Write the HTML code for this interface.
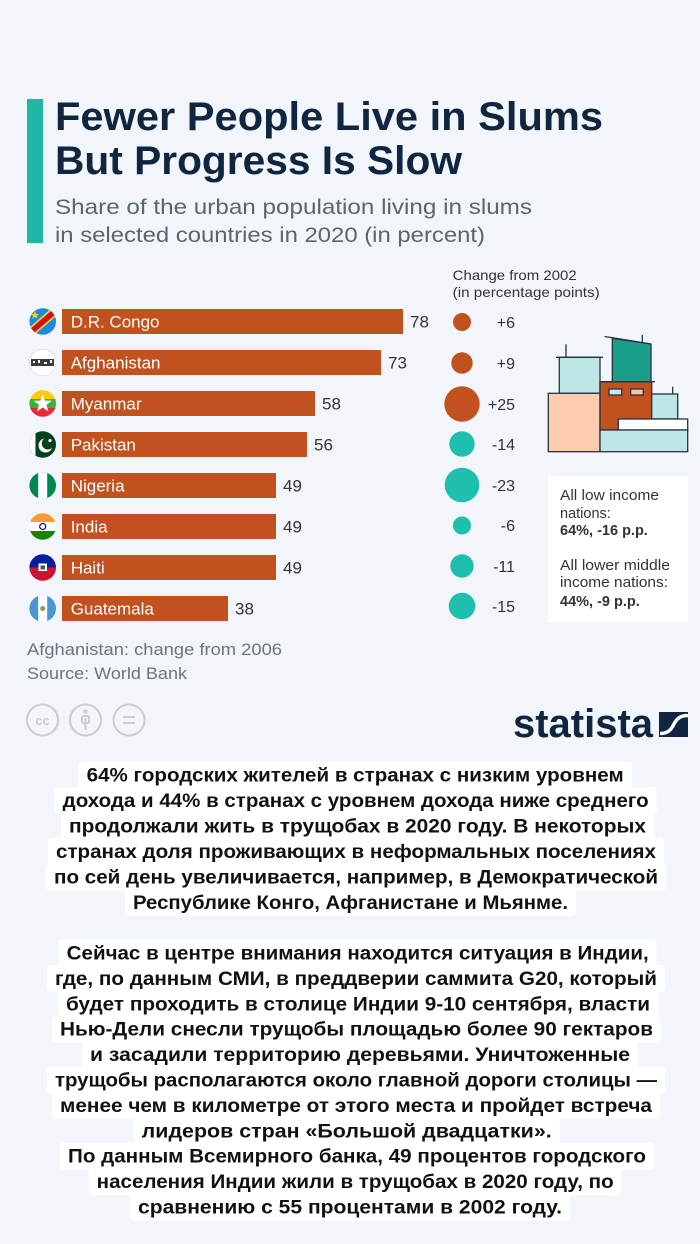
<!DOCTYPE html>
<html><head><meta charset="utf-8"><style>
html,body{margin:0;padding:0;background:#f2f5f9;}
svg{display:block;}
</style></head><body>
<svg width="700" height="1244" viewBox="0 0 700 1244" xmlns="http://www.w3.org/2000/svg" font-family="'Liberation Sans', 'Noto Sans CJK SC', sans-serif">
<defs>
<clipPath id="f0"><circle cx="42.7" cy="321.5" r="13.3"/></clipPath>
<clipPath id="f1"><circle cx="42.7" cy="362.5" r="13.3"/></clipPath>
<clipPath id="f2"><circle cx="42.7" cy="403.5" r="13.3"/></clipPath>
<clipPath id="f3"><circle cx="42.7" cy="444.5" r="13.3"/></clipPath>
<clipPath id="f4"><circle cx="42.7" cy="485.5" r="13.3"/></clipPath>
<clipPath id="f5"><circle cx="42.7" cy="526.5" r="13.3"/></clipPath>
<clipPath id="f6"><circle cx="42.7" cy="567.5" r="13.3"/></clipPath>
<clipPath id="f7"><circle cx="42.7" cy="608.5" r="13.3"/></clipPath>
</defs>
<rect x="0" y="0" width="700" height="1244" fill="#f2f5f9"/>

<!-- header -->
<rect x="27" y="99" width="16" height="144" fill="#1fb8a5"/>
<text x="55" y="130" font-size="40" font-weight="bold" fill="#0f2540" textLength="548" lengthAdjust="spacingAndGlyphs">Fewer People Live in Slums</text>
<text x="55" y="174" font-size="40" font-weight="bold" fill="#0f2540" textLength="407" lengthAdjust="spacingAndGlyphs">But Progress Is Slow</text>
<text x="55" y="214" font-size="21.5" fill="#5b6570" textLength="477" lengthAdjust="spacingAndGlyphs">Share of the urban population living in slums</text>
<text x="55" y="242" font-size="21.5" fill="#5b6570" textLength="430" lengthAdjust="spacingAndGlyphs">in selected countries in 2020 (in percent)</text>

<text x="452.7" y="280" font-size="14" fill="#333" textLength="124" lengthAdjust="spacingAndGlyphs">Change from 2002</text>
<text x="452.7" y="297" font-size="14" fill="#333" textLength="147" lengthAdjust="spacingAndGlyphs">(in percentage points)</text>

<!-- bars -->
<g fill="#c1521f">
<rect x="62" y="309" width="341" height="25"/>
<rect x="62" y="350" width="319" height="25"/>
<rect x="62" y="391" width="253" height="25"/>
<rect x="62" y="432" width="245" height="25"/>
<rect x="62" y="473" width="214" height="25"/>
<rect x="62" y="514" width="214" height="25"/>
<rect x="62" y="555" width="214" height="25"/>
<rect x="62" y="596" width="166" height="25"/>
</g>
<g fill="#ffffff" font-size="17">
<text x="70.7" y="327.5">D.R. Congo</text>
<text x="70.7" y="368.5">Afghanistan</text>
<text x="70.7" y="409.5">Myanmar</text>
<text x="70.7" y="450.5">Pakistan</text>
<text x="70.7" y="491.5">Nigeria</text>
<text x="70.7" y="532.5">India</text>
<text x="70.7" y="573.5">Haiti</text>
<text x="70.7" y="614.5">Guatemala</text>
</g>
<g fill="#333" font-size="17">
<text x="410" y="327.5">78</text>
<text x="388" y="368.5">73</text>
<text x="322" y="409.5">58</text>
<text x="314" y="450.5">56</text>
<text x="283" y="491.5">49</text>
<text x="283" y="532.5">49</text>
<text x="283" y="573.5">49</text>
<text x="235" y="614.5">38</text>
</g>

<!-- flags -->
<g clip-path="url(#f0)">
<rect x="29" y="308" width="28" height="28" fill="#1e88e5"/>
<line x1="24" y1="338" x2="62" y2="305" stroke="#f7d618" stroke-width="9"/>
<line x1="24" y1="338" x2="62" y2="305" stroke="#ce1021" stroke-width="5.5"/>
<polygon points="35,311 36.2,314 39.3,314 36.8,315.8 37.8,318.8 35,317 32.2,318.8 33.2,315.8 30.7,314 33.8,314" fill="#f7d618"/>
</g>
<g clip-path="url(#f1)">
<rect x="29" y="349" width="28" height="28" fill="#ffffff"/>
<rect x="31" y="359" width="23" height="7" fill="#3a3a3a"/>
<rect x="33" y="361" width="2" height="2" fill="#fff"/><rect x="38" y="360" width="2" height="3" fill="#fff"/><rect x="44" y="362" width="3" height="2" fill="#fff"/><rect x="50" y="360" width="2" height="3" fill="#fff"/>
</g>
<circle cx="42.7" cy="362.5" r="13.3" fill="none" stroke="#dcdfe3" stroke-width="0.8"/>
<g clip-path="url(#f2)">
<rect x="29" y="390" width="28" height="9.5" fill="#fecb00"/>
<rect x="29" y="399" width="28" height="9.5" fill="#34b233"/>
<rect x="29" y="408" width="28" height="9.5" fill="#ea2839"/>
<polygon points="42.7,394 45,400.6 52,400.7 46.4,404.8 48.5,411.5 42.7,407.5 36.9,411.5 39,404.8 33.4,400.7 40.4,400.6" fill="#ffffff"/>
</g>
<g clip-path="url(#f3)">
<rect x="29" y="431" width="28" height="28" fill="#01411c"/>
<rect x="29" y="431" width="6.5" height="28" fill="#ffffff"/>
<circle cx="45.5" cy="445.5" r="7" fill="#ffffff"/>
<circle cx="47.8" cy="443.5" r="6" fill="#01411c"/>
<circle cx="50" cy="440.5" r="1.6" fill="#ffffff"/>
</g>
<g clip-path="url(#f4)">
<rect x="29" y="472" width="28" height="28" fill="#008751"/>
<rect x="38.2" y="472" width="9" height="28" fill="#ffffff"/>
</g>
<g clip-path="url(#f5)">
<rect x="29" y="513" width="28" height="9.5" fill="#ff9933"/>
<rect x="29" y="522" width="28" height="9.5" fill="#ffffff"/>
<rect x="29" y="531" width="28" height="9.5" fill="#138808"/>
<circle cx="42.7" cy="526.5" r="3" fill="none" stroke="#000080" stroke-width="1.2"/>
</g>
<g clip-path="url(#f6)">
<rect x="29" y="554" width="28" height="14" fill="#00209f"/>
<rect x="29" y="567.5" width="28" height="14" fill="#d21034"/>
<rect x="38.5" y="563.5" width="8.5" height="7.5" fill="#ffffff"/>
<rect x="40.5" y="565.5" width="4.5" height="4" fill="#2d6a2d"/>
</g>
<g clip-path="url(#f7)">
<rect x="29" y="595" width="28" height="28" fill="#4997d0"/>
<rect x="38.2" y="595" width="9" height="28" fill="#ffffff"/>
<circle cx="42.7" cy="608.5" r="2.5" fill="#8a9a5b"/>
</g>

<!-- bubbles -->
<g fill="#c1521f">
<circle cx="462" cy="322" r="9"/>
<circle cx="462" cy="363" r="10.7"/>
<circle cx="462" cy="404" r="17.7"/>
</g>
<g fill="#1fbfae">
<circle cx="462" cy="444" r="12.7"/>
<circle cx="462" cy="485" r="17.3"/>
<circle cx="462" cy="525.5" r="9"/>
<circle cx="462" cy="566" r="11.7"/>
<circle cx="462" cy="606" r="13.3"/>
</g>
<g fill="#333" font-size="16" text-anchor="end">
<text x="515" y="328">+6</text>
<text x="515" y="369">+9</text>
<text x="515" y="410">+25</text>
<text x="515" y="450">-14</text>
<text x="515" y="491">-23</text>
<text x="515" y="531">-6</text>
<text x="515" y="572">-11</text>
<text x="515" y="612">-15</text>
</g>

<!-- illustration -->
<g stroke="#24343f" stroke-width="1.3">
<line x1="566" y1="344.3" x2="566" y2="357.3"/>
<line x1="642.3" y1="335" x2="642.3" y2="343"/>
<line x1="672.7" y1="386.7" x2="672.7" y2="394"/>
<rect x="559.3" y="357.3" width="40.7" height="36" fill="#bfe6e6"/>
<line x1="556" y1="357.3" x2="603" y2="357.3"/>
<polygon points="612.3,338.3 651,344 651,381.7 612.3,381.7" fill="#1b9e8c"/>
<line x1="604.5" y1="336.5" x2="651" y2="344"/>
<rect x="548.3" y="393.3" width="51.7" height="58.4" fill="#fccbb0"/>
<rect x="600" y="381.7" width="51.7" height="48.3" fill="#c1521f"/>
<line x1="600" y1="381.7" x2="655" y2="381.7"/>
<rect x="609" y="389" width="12.7" height="6" fill="#c9e8e6"/>
<rect x="630.7" y="389" width="12.6" height="6" fill="#f9c2a9"/>
<rect x="651.7" y="394" width="26" height="25" fill="#bfe6e6"/>
<rect x="618.3" y="419" width="69.4" height="11" fill="#ffffff"/>
<rect x="600" y="430" width="87.7" height="21.7" fill="#bfe6e6"/>
</g>

<!-- info box -->
<rect x="548" y="476" width="140" height="146" fill="#ffffff"/>
<g font-size="14.5" fill="#333">
<text x="560" y="500" textLength="99" lengthAdjust="spacingAndGlyphs">All low income</text>
<text x="560" y="518">nations:</text>
<text x="560" y="535" font-weight="bold">64%, -16 p.p.</text>
<text x="560" y="570" textLength="110" lengthAdjust="spacingAndGlyphs">All lower middle</text>
<text x="560" y="587" textLength="108" lengthAdjust="spacingAndGlyphs">income nations:</text>
<text x="560" y="606" font-weight="bold">44%, -9 p.p.</text>
</g>

<!-- footer -->
<text x="27" y="655" font-size="16.5" fill="#6b7480" textLength="255" lengthAdjust="spacingAndGlyphs">Afghanistan: change from 2006</text>
<text x="27" y="679" font-size="16.5" fill="#6b7480" textLength="160" lengthAdjust="spacingAndGlyphs">Source: World Bank</text>
<g fill="none" stroke="#c9cdd2" stroke-width="2">
<circle cx="42.5" cy="720" r="15.5"/>
<circle cx="85.5" cy="720" r="15.5"/>
<circle cx="129" cy="720" r="15.5"/>
<line x1="123" y1="717" x2="135" y2="717"/>
<line x1="123" y1="723" x2="135" y2="723"/>
<line x1="85.5" y1="718" x2="85.5" y2="730"/>
<rect x="82" y="716" width="7" height="7" rx="1.5"/>
</g>
<circle cx="85.5" cy="711.5" r="2.3" fill="#c9cdd2"/>
<text x="42.5" y="725" font-size="13" font-weight="bold" fill="#c9cdd2" text-anchor="middle">cc</text>

<text x="513" y="737" font-size="40" font-weight="bold" fill="#0f2540" font-family="'Liberation Sans Narrow','Liberation Sans',sans-serif" textLength="140" lengthAdjust="spacingAndGlyphs">statista</text>
<rect x="659" y="712" width="29" height="25" fill="#0f2540"/>
<path d="M660,733.5 C668,733.5 671,730 674,724 C677,718 681,715.5 688,715.5" fill="none" stroke="#ffffff" stroke-width="3.5"/>

<!-- russian text block -->
<g fill="#ffffff">
<rect x="78.7" y="761.5" width="553" height="27" rx="4"/>
<rect x="54.7" y="787" width="602" height="27" rx="4"/>
<rect x="61" y="812.5" width="593" height="27" rx="4"/>
<rect x="48" y="838" width="616" height="27" rx="4"/>
<rect x="46" y="863.5" width="620" height="27" rx="4"/>
<rect x="125" y="889" width="451" height="27" rx="4"/>
<rect x="58.7" y="939.5" width="598" height="27" rx="4"/>
<rect x="47" y="964.9" width="618" height="27" rx="4"/>
<rect x="58" y="990.3" width="600" height="27" rx="4"/>
<rect x="52" y="1015.7" width="609" height="27" rx="4"/>
<rect x="82" y="1041.1" width="556" height="27" rx="4"/>
<rect x="47" y="1066.5" width="618" height="27" rx="4"/>
<rect x="52" y="1091.9" width="608" height="27" rx="4"/>
<rect x="133.7" y="1117.3" width="426" height="27" rx="4"/>
<rect x="60" y="1142.7" width="594" height="27" rx="4"/>
<rect x="88.7" y="1168.1" width="533" height="27" rx="4"/>
<rect x="130" y="1193.5" width="440" height="27" rx="4"/>
</g>
<g fill="#111" font-size="19" font-weight="bold" font-family="'Liberation Sans','Noto Sans CJK SC',sans-serif">
<text x="86.7" y="781.5" textLength="537" lengthAdjust="spacingAndGlyphs">64% городских жителей в странах с низким уровнем</text>
<text x="62.7" y="807" textLength="586" lengthAdjust="spacingAndGlyphs">дохода и 44% в странах с уровнем дохода ниже среднего</text>
<text x="69" y="832.5" textLength="577" lengthAdjust="spacingAndGlyphs">продолжали жить в трущобах в 2020 году. В некоторых</text>
<text x="56" y="858" textLength="600" lengthAdjust="spacingAndGlyphs">странах доля проживающих в неформальных поселениях</text>
<text x="54" y="883.5" textLength="604" lengthAdjust="spacingAndGlyphs">по сей день увеличивается, например, в Демократической</text>
<text x="133" y="909" textLength="435" lengthAdjust="spacingAndGlyphs">Республике Конго, Афганистане и Мьянме.</text>
<text x="66.7" y="959.5" textLength="582" lengthAdjust="spacingAndGlyphs">Сейчас в центре внимания находится ситуация в Индии,</text>
<text x="55" y="984.9" textLength="602" lengthAdjust="spacingAndGlyphs">где, по данным СМИ, в преддверии саммита G20, который</text>
<text x="66" y="1010.3" textLength="584" lengthAdjust="spacingAndGlyphs">будет проходить в столице Индии 9-10 сентября, власти</text>
<text x="60" y="1035.7" textLength="593" lengthAdjust="spacingAndGlyphs">Нью-Дели снесли трущобы площадью более 90 гектаров</text>
<text x="90" y="1061.1" textLength="540" lengthAdjust="spacingAndGlyphs">и засадили территорию деревьями. Уничтоженные</text>
<text x="55" y="1086.5" textLength="602" lengthAdjust="spacingAndGlyphs">трущобы располагаются около главной дороги столицы —</text>
<text x="60" y="1111.9" textLength="592" lengthAdjust="spacingAndGlyphs">менее чем в километре от этого места и пройдет встреча</text>
<text x="141.7" y="1137.3" textLength="410" lengthAdjust="spacingAndGlyphs">лидеров стран «Большой двадцатки».</text>
<text x="68" y="1162.7" textLength="578" lengthAdjust="spacingAndGlyphs">По данным Всемирного банка, 49 процентов городского</text>
<text x="96.7" y="1188.1" textLength="517" lengthAdjust="spacingAndGlyphs">населения Индии жили в трущобах в 2020 году, по</text>
<text x="138" y="1213.5" textLength="424" lengthAdjust="spacingAndGlyphs">сравнению с 55 процентами в 2002 году.</text>
</g>
</svg>
</body></html>
